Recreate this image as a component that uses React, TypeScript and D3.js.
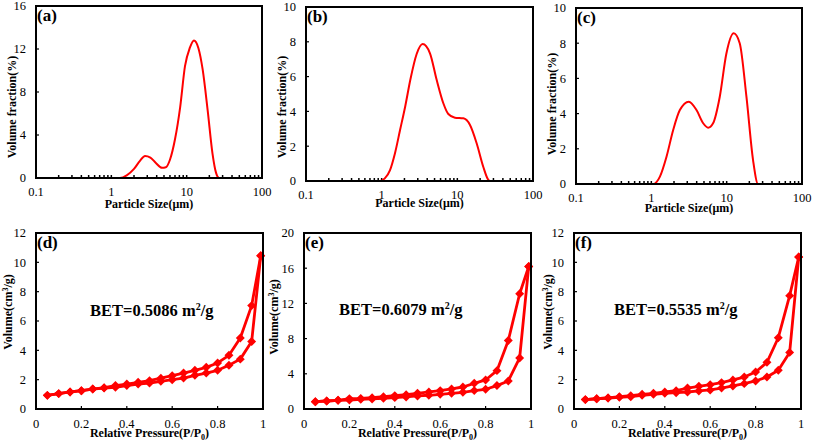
import React from 'react';
import * as d3 from 'd3';

// ---------- data: particle size distributions ----------
const sizesA = [0.1, 1.0, 1.3, 1.6, 2.0, 2.4, 2.8, 3.3, 3.9, 4.7, 5.3, 6.0, 7.0, 8.2, 9.5, 11, 12.5, 14.3, 16.3, 19, 22, 24.5, 27, 100];
const volA = [0, 0, 0, 0.25, 0.85, 1.6, 2.05, 1.9, 1.4, 0.95, 1.0, 1.7, 3.6, 6.6, 10.4, 12.1, 12.8, 12.1, 10.1, 6.3, 2.3, 0.5, 0, 0];

const sizesB = [0.1, 0.95, 1.1, 1.29, 1.5, 1.75, 2.05, 2.4, 2.9, 3.48, 4.35, 5.34, 6.53, 7.6, 9.3, 12.0, 14.7, 18.0, 22.0, 25.7, 27, 100];
const volB = [0, 0, 0.15, 0.63, 1.6, 2.93, 4.3, 5.85, 7.3, 7.87, 7.34, 5.8, 4.47, 3.85, 3.64, 3.6, 3.22, 2.17, 0.82, 0.06, 0, 0];

const sizesC = [0.1, 1.06, 1.3, 1.59, 1.95, 2.39, 3.15, 3.98, 4.88, 5.68, 6.6, 8.1, 9.9, 12.4, 14.9, 18.3, 22.4, 26.1, 100];
const volC = [0, 0, 0.42, 1.55, 3.07, 4.2, 4.68, 4.2, 3.45, 3.2, 3.45, 4.96, 7.4, 8.56, 8.0, 4.96, 1.36, 0, 0];

const sizeTickLabels = ['0.1', '1', '10', '100'];
const sizeTickValues = [0.1, 1, 10, 100];
const yTicksA = [0, 4, 8, 12, 16];
const yTicksBC = [0, 2, 4, 6, 8, 10];

// ---------- data: N2 isotherms ----------
const pressures = [0.05, 0.1, 0.15, 0.2, 0.25, 0.3, 0.35, 0.4, 0.45, 0.5, 0.55, 0.6, 0.65, 0.7, 0.75, 0.8, 0.85, 0.9, 0.95, 0.99];
const adsD = [0.93, 1.05, 1.16, 1.25, 1.36, 1.43, 1.48, 1.6, 1.7, 1.77, 1.89, 2.0, 2.11, 2.3, 2.45, 2.64, 2.98, 3.4, 4.6, 10.45];
const desD = [0.93, 1.05, 1.16, 1.25, 1.36, 1.45, 1.6, 1.7, 1.82, 1.93, 2.1, 2.27, 2.45, 2.64, 2.84, 3.14, 3.66, 4.84, 7.05, 10.45];
const adsE = [0.83, 0.91, 0.99, 1.02, 1.1, 1.14, 1.21, 1.29, 1.37, 1.48, 1.56, 1.67, 1.78, 1.9, 2.09, 2.24, 2.66, 3.19, 5.8, 16.2];
const desE = [0.83, 0.91, 0.99, 1.18, 1.2, 1.29, 1.4, 1.52, 1.63, 1.78, 1.94, 2.09, 2.28, 2.5, 2.92, 3.3, 4.36, 7.78, 13.1, 16.2];
const adsF = [0.64, 0.7, 0.75, 0.8, 0.84, 0.93, 1.0, 1.07, 1.11, 1.16, 1.23, 1.3, 1.43, 1.57, 1.73, 1.91, 2.18, 2.64, 3.86, 10.36];
const desF = [0.64, 0.7, 0.75, 0.84, 0.91, 1.0, 1.07, 1.16, 1.25, 1.43, 1.55, 1.66, 1.8, 1.98, 2.18, 2.52, 3.18, 4.86, 7.73, 10.36];

const pressureTicks = [0, 0.2, 0.4, 0.6, 0.8, 1];
const pressureTickLabels = ['0', '0.2', '0.4', '0.6', '0.8', '1'];
const yTicksDF = [0, 2, 4, 6, 8, 10, 12];
const yTicksE = [0, 4, 8, 12, 16, 20];
const betValues = ['0.5086', '0.6079', '0.5535'];
const panelLetters = ['(a)', '(b)', '(c)', '(d)', '(e)', '(f)'];

const FONT = 'Liberation Serif, Times New Roman, DejaVu Serif, serif';
const RED = '#ff0000';

type Box = { l: number; r: number; t: number; b: number };

const txt = { fontFamily: FONT } as React.CSSProperties;

function PSDPanel(props: {
  box: Box; sizes: number[]; vals: number[]; yTicks: number[]; letter: string;
  yTitleX: number; yTitleY: number; xTitleY: number;
}) {
  const { box, sizes, vals, yTicks, letter, yTitleX, yTitleY, xTitleY } = props;
  const x = d3.scaleLog().domain([0.1, 100]).range([box.l, box.r]);
  const y = d3.scaleLinear().domain([0, yTicks[yTicks.length - 1]]).range([box.b, box.t]);
  const pts = sizes.map((s, i) => [s, vals[i]] as [number, number]);
  const line = d3.line<[number, number]>().x(d => x(d[0])).y(d => y(d[1])).curve(d3.curveMonotoneX);
  const minor = x.ticks();
  return (
    <g>
      {minor.map((t, i) => (
        <line key={'mt' + i} x1={x(t)} x2={x(t)} y1={box.b} y2={box.b - 3} stroke="#000" strokeWidth={1.5} />
      ))}
      {yTicks.map((t, i) => (
        <g key={'yt' + i}>
          <line x1={box.l} x2={box.l + 3} y1={y(t)} y2={y(t)} stroke="#000" strokeWidth={1.2} />
          <text x={box.l - 10} y={y(t)} dy="0.35em" textAnchor="end" fontSize={12.5} style={txt}>{t}</text>
        </g>
      ))}
      {sizeTickValues.map((t, i) => (
        <text key={'xt' + i} x={x(t)} y={box.b + 18} textAnchor="middle" fontSize={12.5} style={txt}>{sizeTickLabels[i]}</text>
      ))}
      <path d={line(pts) || ''} fill="none" stroke={RED} strokeWidth={2} />
      <rect x={box.l} y={box.t} width={box.r - box.l} height={box.b - box.t} fill="none" stroke="#000" strokeWidth={2} />
      <text x={box.l + 1} y={box.t + 15} fontSize={17} fontWeight="bold" style={txt}>{letter}</text>
      <text x={(box.l + box.r) / 2} y={xTitleY} textAnchor="middle" fontSize={12} fontWeight="bold" style={txt}>Particle Size(μm)</text>
      <text transform={`translate(${yTitleX},${yTitleY}) rotate(-90)`} textAnchor="middle" fontSize={12} fontWeight="bold" style={txt}>Volume fraction(%)</text>
    </g>
  );
}

function BETPanel(props: {
  box: Box; ads: number[]; des: number[]; yTicks: number[]; letter: string; bet: string;
  betX: number; betY: number; yTitleX: number; yTitleY: number;
}) {
  const { box, ads, des, yTicks, letter, bet, betX, betY, yTitleX, yTitleY } = props;
  const x = d3.scaleLinear().domain([0, 1]).range([box.l, box.r]);
  const y = d3.scaleLinear().domain([0, yTicks[yTicks.length - 1]]).range([box.b, box.t]);
  const line = d3.line<number>().x((_, i) => x(pressures[i])).y(d => y(d));
  const diamond = d3.symbol().type(d3.symbolSquare).size(40)() || '';
  const series = [ads, des];
  return (
    <g>
      {pressureTicks.map((t, i) => (
        <g key={'xt' + i}>
          <line x1={x(t)} x2={x(t)} y1={box.b} y2={box.b - 3} stroke="#000" strokeWidth={1.2} />
          <text x={x(t)} y={box.b + 19} textAnchor="middle" fontSize={12.5} style={txt}>{pressureTickLabels[i]}</text>
        </g>
      ))}
      {yTicks.map((t, i) => (
        <g key={'yt' + i}>
          <line x1={box.l} x2={box.l + 3} y1={y(t)} y2={y(t)} stroke="#000" strokeWidth={1.2} />
          <text x={box.l - 10} y={y(t)} dy="0.35em" textAnchor="end" fontSize={12.5} style={txt}>{t}</text>
        </g>
      ))}
      {series.map((s, k) => (
        <g key={'s' + k}>
          <path d={line(s) || ''} fill="none" stroke={RED} strokeWidth={2.8} strokeLinejoin="round" />
          {s.map((v, i) => (
            <path key={i} d={diamond} transform={`translate(${x(pressures[i])},${y(v)}) rotate(45)`} fill={RED} />
          ))}
        </g>
      ))}
      <rect x={box.l} y={box.t} width={box.r - box.l} height={box.b - box.t} fill="none" stroke="#000" strokeWidth={2} />
      <text x={box.l + 1} y={box.t + 15} fontSize={17} fontWeight="bold" style={txt}>{letter}</text>
      <text x={betX} y={betY} fontSize={16.5} fontWeight="bold" style={txt}>
        BET={bet} m<tspan fontSize={10} dy={-6}>2</tspan><tspan dy={6}>/g</tspan>
      </text>
      <text x={(box.l + box.r) / 2} y={box.b + 28} textAnchor="middle" fontSize={12} fontWeight="bold" style={txt}>
        Relative Pressure(P/P<tspan fontSize={8} dy={3}>0</tspan><tspan dy={-3}>)</tspan>
      </text>
      <text transform={`translate(${yTitleX},${yTitleY}) rotate(-90)`} textAnchor="middle" fontSize={12} fontWeight="bold" style={txt}>
        Volume(cm<tspan fontSize={8} dy={-4}>3</tspan><tspan dy={4}>/g)</tspan>
      </text>
    </g>
  );
}

export default function App() {
  return (
    <svg width={813} height={444} style={{ position: 'absolute', left: 0, top: 0, background: '#fff' }}>
      <rect width={813} height={444} fill="#fff" />
      <PSDPanel box={{ l: 36, r: 262, t: 6, b: 178 }} sizes={sizesA} vals={volA} yTicks={yTicksA} letter={panelLetters[0]} yTitleX={16} yTitleY={107} xTitleY={208} />
      <PSDPanel box={{ l: 306, r: 533, t: 7, b: 181 }} sizes={sizesB} vals={volB} yTicks={yTicksBC} letter={panelLetters[1]} yTitleX={286} yTitleY={107} xTitleY={207} />
      <PSDPanel box={{ l: 576, r: 802, t: 8, b: 184 }} sizes={sizesC} vals={volC} yTicks={yTicksBC} letter={panelLetters[2]} yTitleX={556} yTitleY={104} xTitleY={212} />
      <BETPanel box={{ l: 36, r: 263, t: 233, b: 409 }} ads={adsD} des={desD} yTicks={yTicksDF} letter={panelLetters[3]} bet={betValues[0]} betX={90} betY={316} yTitleX={12} yTitleY={312} />
      <BETPanel box={{ l: 304, r: 531, t: 233, b: 409 }} ads={adsE} des={desE} yTicks={yTicksE} letter={panelLetters[4]} bet={betValues[1]} betX={339} betY={315} yTitleX={278} yTitleY={317} />
      <BETPanel box={{ l: 574, r: 801, t: 233, b: 409 }} ads={adsF} des={desF} yTicks={yTicksDF} letter={panelLetters[5]} bet={betValues[2]} betX={614} betY={315} yTitleX={552} yTitleY={312} />
    </svg>
  );
}
